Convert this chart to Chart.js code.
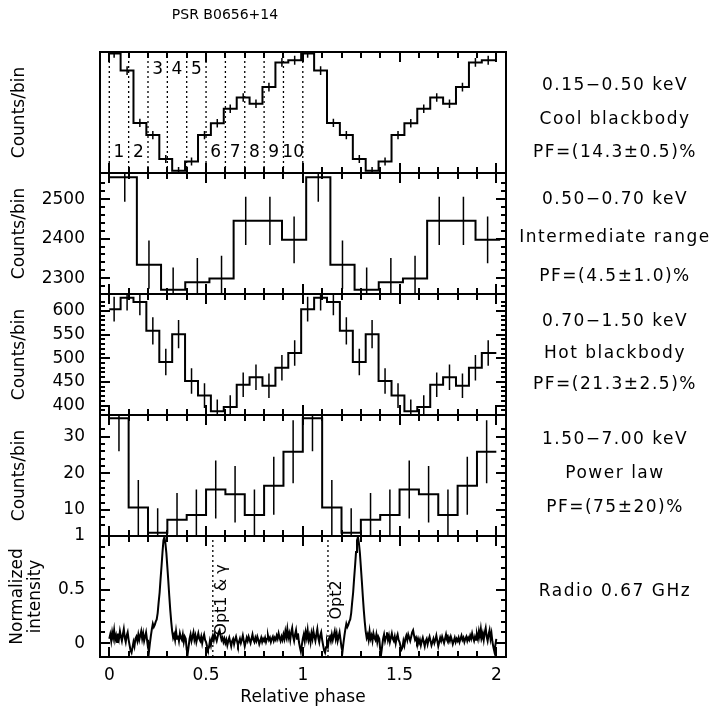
<!DOCTYPE html>
<html>
<head>
<meta charset="utf-8">
<script src="https://cdn.jsdelivr.net/npm/chart.js@4.4.0/dist/chart.umd.min.js"></script>
<style>
  html, body { margin: 0; padding: 0; background: #fff; }
  #wrap { position: relative; width: 710px; height: 713px; overflow: hidden; }
  #wrap canvas { position: absolute; left: 0; top: 0; }
</style>
</head>
<body>
<div id="wrap">
  <canvas id="p1" width="710" height="713"></canvas>
  <canvas id="p2" width="710" height="713"></canvas>
  <canvas id="p3" width="710" height="713"></canvas>
  <canvas id="p4" width="710" height="713"></canvas>
  <canvas id="p5" width="710" height="713"></canvas>
</div>
<script>
Chart.defaults.font.family = "'DejaVu Sans', sans-serif";
Chart.defaults.color = '#000';

const PHASE_MIN = -0.048, PHASE_MAX = 2.05;

// 0.15-0.50 keV, cool blackbody (15 bins per cycle)
const coolPhase = [0.025, 0.092, 0.158, 0.225, 0.292, 0.358, 0.425, 0.492, 0.558, 0.625, 0.692, 0.758, 0.825, 0.892, 0.958];
const coolCounts = [6460, 6220, 5490, 5320, 4985, 4820, 4950, 5320, 5485, 5686, 5845, 5756, 5990, 6335, 6365];
const coolErr = [62, 60, 58, 57, 55, 55, 55, 57, 58, 59, 60, 59, 61, 62, 62];

// phase intervals 1..10 marked on the top panel
const intervalEdges = [0, 0.1, 0.2, 0.3, 0.4, 0.5, 0.6, 0.7, 0.8, 0.9, 1.0];
const intervalPhase = [0.05, 0.15, 0.25, 0.35, 0.45, 0.55, 0.65, 0.75, 0.85, 0.95];
const intervalNames = ['1', '2', '3', '4', '5', '6', '7', '8', '9', '10'];

// 0.50-0.70 keV, intermediate range (8 bins)
const midPhase = [0.08, 0.205, 0.33, 0.455, 0.58, 0.705, 0.83, 0.955];
const midCounts = [2555, 2334, 2271, 2290, 2299, 2445, 2445, 2397];
const midErr = [62, 61, 56, 61, 58, 61, 61, 59];

// 0.70-1.50 keV, hot blackbody (15 bins)
const hotPhase = [0.025, 0.092, 0.158, 0.225, 0.292, 0.358, 0.425, 0.492, 0.558, 0.625, 0.692, 0.758, 0.825, 0.892, 0.958];
const hotCounts = [604, 628, 619, 558, 492, 551, 452, 421, 388, 397, 444, 460, 442, 480, 511];
const hotErr = [26, 27, 28, 29, 28, 30, 27, 26, 25, 25, 26, 27, 26, 27, 27];

// 1.50-7.00 keV, power law (10 bins)
const plPhase = [0.05, 0.15, 0.25, 0.35, 0.45, 0.55, 0.65, 0.75, 0.85, 0.95];
const plCounts = [35.0, 10.7, 3.8, 7.3, 8.6, 15.6, 14.3, 8.6, 16.6, 25.9];
const plErr = [9, 7.5, 6.7, 7.3, 7, 7.9, 7.7, 7, 7.9, 8.6];

// radio 0.67 GHz profile, one cycle in 0.005 phase steps
const radioIntensity = [
  0.04, 0.08, 0.02, 0.10, 0.05, 0.12, 0.03, 0.07, 0.01, 0.09,
  0.04, 0.11, 0.06, 0.02, 0.08, 0.13, 0.05, 0.01, 0.07, 0.10,
  0.03, -0.02, -0.07, -0.09, -0.04, 0.01, -0.03, 0.04, 0.06, 0.02,
  0.08, 0.03, 0.07, 0.11, 0.04, 0.09, 0.02, 0.06, 0.10, 0.03,
  -0.04, -0.08, 0.00, 0.07, 0.13, 0.18, 0.15, 0.17, 0.20, 0.22,
  0.28, 0.38, 0.47, 0.60, 0.72, 0.85, 0.96, 0.99, 0.93, 0.84,
  0.71, 0.58, 0.44, 0.31, 0.20, 0.11, 0.05, 0.08, 0.03, 0.11,
  0.04, 0.07, 0.02, 0.09, 0.05, 0.03, 0.08, 0.01, 0.06, 0.04,
  -0.06, -0.10, -0.03, 0.04, 0.08, 0.02, 0.06, 0.10, 0.03, 0.07,
  0.01, 0.05, 0.09, 0.04, 0.02, 0.06, 0.00, 0.05, 0.08, 0.03,
  0.01, -0.03, -0.06, -0.04, 0.02, -0.02, 0.04, 0.07, 0.03, 0.08,
  0.05, 0.02, 0.06, 0.10, 0.12, 0.07, 0.03, 0.05, 0.01, 0.04,
  0.00, 0.03, -0.02, 0.02, 0.05, 0.01, -0.03, 0.02, 0.04, -0.01,
  0.03, 0.06, 0.02, -0.02, 0.01, 0.04, 0.00, 0.03, 0.07, 0.02,
  -0.03, 0.01, 0.05, 0.02, 0.06, 0.03, 0.00, 0.04, 0.08, 0.03,
  0.01, 0.05, 0.02, 0.06, 0.03, -0.01, 0.02, 0.05, 0.01, 0.04,
  0.02, 0.05, 0.01, 0.04, 0.07, 0.03, 0.05, 0.01, 0.04, 0.06,
  0.02, 0.05, 0.03, 0.07, 0.04, 0.09, 0.05, 0.02, 0.06, 0.03,
  0.08, 0.04, 0.11, 0.06, 0.13, 0.05, 0.09, 0.03, 0.10, 0.14,
  0.06, 0.02, 0.08, 0.12, 0.04, 0.09, 0.01, -0.04, -0.08, -0.02
];
const optPhase = [0.535, 1.13];
const optNames = ['Opt1 & \u03b3', 'Opt2'];

// axis tick marks along phase
const phaseTicks = [0, 0.1, 0.2, 0.3, 0.4, 0.5, 0.6, 0.7, 0.8, 0.9, 1.0,
                    1.1, 1.2, 1.3, 1.4, 1.5, 1.6, 1.7, 1.8, 1.9, 2.0];

const FONT = "'DejaVu Sans', sans-serif";

function onStep(v, step) {
  const r = v / step;
  return Math.abs(r - Math.round(r)) < 1e-6;
}

// histogram over two cycles, steps halfway between bin centres
function histPoints(phase, counts, start, end) {
  const c = [], v = [];
  for (let cyc = 0; cyc < 2; cyc++) {
    phase.forEach((p, i) => { c.push(p + cyc); v.push(counts[i]); });
  }
  const pts = [];
  for (let i = 0; i < c.length; i++) {
    const left = i === 0 ? start : (c[i - 1] + c[i]) / 2;
    const right = i === c.length - 1 ? end : (c[i] + c[i + 1]) / 2;
    pts.push({x: left, y: v[i]}, {x: right, y: v[i]});
  }
  return pts;
}

function errPoints(phase, counts, err) {
  const pts = [];
  for (let cyc = 0; cyc < 2; cyc++) {
    phase.forEach((p, i) => {
      pts.push({x: p + cyc, y: counts[i] - err[i]}, {x: p + cyc, y: counts[i] + err[i]}, {x: p + cyc, y: null});
    });
  }
  return pts;
}

function markPoints(list, lo, hi) {
  const pts = [];
  list.forEach(p => pts.push({x: p, y: lo}, {x: p, y: hi}, {x: p, y: null}));
  return pts;
}

function radioPoints() {
  const n = radioIntensity.length;
  const pts = [];
  for (let cyc = 0; cyc < 2; cyc++) {
    radioIntensity.forEach((v, i) => pts.push({x: cyc + i / n, y: v}));
  }
  pts.push({x: 2, y: radioIntensity[0]});
  return pts;
}

const frame = {
  id: 'frame',
  afterDraw(chart, args, opts) {
    const {ctx, chartArea: a, scales: {x, y}} = chart;
    ctx.save();
    ctx.strokeStyle = '#000';
    ctx.fillStyle = '#000';
    ctx.lineWidth = 2;
    ctx.strokeRect(a.left, a.top, a.right - a.left, a.bottom - a.top);
    ctx.beginPath();
    phaseTicks.forEach(v => {
      const px = Math.round(x.getPixelForValue(v));
      const len = onStep(v, 0.5) ? 10 : 6;
      ctx.moveTo(px, a.top); ctx.lineTo(px, a.top + len);
      ctx.moveTo(px, a.bottom); ctx.lineTo(px, a.bottom - len);
    });
    y.ticks.forEach(t => {
      if (!onStep(t.value, opts.minor)) return;
      const py = Math.round(y.getPixelForValue(t.value));
      const len = onStep(t.value, opts.major) ? 10 : 5;
      ctx.moveTo(a.left, py); ctx.lineTo(a.left + len, py);
      ctx.moveTo(a.right, py); ctx.lineTo(a.right - len, py);
    });
    ctx.stroke();

    ctx.textAlign = 'center';
    ctx.textBaseline = 'middle';
    ctx.letterSpacing = '1.5px';
    ctx.font = '17px ' + FONT;
    opts.lines.forEach((s, i) => ctx.fillText(s, 615, opts.lineY[i]));

    ctx.letterSpacing = '0px';
    if (opts.title) {
      ctx.font = '14px ' + FONT;
      ctx.fillText(opts.title, 225, 15);
    }
    if (opts.intervals) {
      ctx.font = '17px ' + FONT;
      intervalPhase.forEach((p, i) => {
        const px = x.getPixelForValue(p);
        const up = i >= 2 && i <= 4;
        ctx.fillText(intervalNames[i], px, up ? a.top + 18 : a.bottom - 20);
      });
    }
    if (opts.opt) {
      ctx.font = '16px ' + FONT;
      optPhase.forEach((p, i) => {
        ctx.save();
        ctx.translate(x.getPixelForValue(p) + 9, a.top + 64);
        ctx.rotate(-Math.PI / 2);
        ctx.fillText(optNames[i], 0, 0);
        ctx.restore();
      });
    }
    ctx.restore();
  }
};

function makePanel(id, o) {
  const showX = !!o.showX;
  return new Chart(document.getElementById(id), {
    type: 'line',
    data: {datasets: o.datasets},
    options: {
      responsive: false,
      animation: false,
      events: [],
      layout: {padding: {top: o.top, bottom: o.bottom, left: 0, right: 204}},
      plugins: {
        legend: {display: false},
        tooltip: {enabled: false},
        frame: {minor: o.minor, major: o.major, lines: o.lines, lineY: o.lineY,
                title: o.title, intervals: o.intervals, opt: o.opt}
      },
      elements: {point: {radius: 0}, line: {tension: 0, borderColor: '#000', fill: false}},
      scales: {
        x: {
          type: 'linear', min: PHASE_MIN, max: PHASE_MAX, display: showX,
          afterBuildTicks: s => { s.ticks = phaseTicks.map(v => ({value: v})); },
          afterFit: s => { if (showX) s.height = 56; },
          grid: {display: false, drawTicks: false},
          border: {display: false},
          ticks: {
            autoSkip: false, maxRotation: 0, padding: 8, font: {size: 17},
            callback: v => onStep(v, 0.5) ? String(Math.round(v * 10) / 10) : ''
          },
          title: {display: showX, text: 'Relative phase', font: {size: 17}, padding: {top: 0, bottom: 5}}
        },
        y: {
          type: 'linear', min: o.ymin, max: o.ymax,
          afterFit: s => { s.width = 100; },
          grid: {display: false, drawTicks: false},
          border: {display: false},
          ticks: {
            stepSize: o.minor, maxTicksLimit: 1000, autoSkip: false, padding: 15,
            font: {size: 17},
            callback: v => onStep(v, o.major) ? String(Math.round(v * 100) / 100) : ''
          },
          title: {display: true, text: o.ytitle, font: {size: 17, lineHeight: 1.06}, padding: {top: o.titlePad, bottom: 0}}
        }
      }
    },
    plugins: [frame]
  });
}

const errStyle = {borderColor: '#000', borderWidth: 1.5, spanGaps: false, clip: 0};
const histStyle = {borderColor: '#000', borderWidth: 2, clip: 0};
const dotStyle = {borderColor: '#000', borderWidth: 1.3, borderDash: [2, 3], spanGaps: false, clip: 0};

makePanel('p1', {
  top: 52, bottom: 713 - 173, ymin: 4790, ymax: 6480, minor: 100, major: 500,
  ytitle: 'Counts/bin', titlePad: 11,
  lines: ['0.15\u22120.50 keV', 'Cool blackbody', 'PF=(14.3\u00b10.5)%'], lineY: [86, 120, 153],
  title: 'PSR B0656+14', intervals: true,
  datasets: [
    Object.assign({data: markPoints(intervalEdges, 4790, 6480)}, dotStyle),
    Object.assign({data: histPoints(coolPhase, coolCounts, 0, 2.0)}, histStyle),
    Object.assign({data: errPoints(coolPhase, coolCounts, coolErr)}, errStyle)
  ]
});

makePanel('p2', {
  top: 173, bottom: 713 - 294, ymin: 2260, ymax: 2566, minor: 20, major: 100,
  ytitle: 'Counts/bin', titlePad: 11,
  lines: ['0.50\u22120.70 keV', 'Intermediate range', 'PF=(4.5\u00b11.0)%'], lineY: [200, 238, 277],
  datasets: [
    Object.assign({data: histPoints(midPhase, midCounts, 0, 2.02)}, histStyle),
    Object.assign({data: errPoints(midPhase, midCounts, midErr)}, errStyle)
  ]
});

makePanel('p3', {
  top: 294, bottom: 713 - 415, ymin: 380, ymax: 636, minor: 10, major: 50,
  ytitle: 'Counts/bin', titlePad: 11,
  lines: ['0.70\u22121.50 keV', 'Hot blackbody', 'PF=(21.3\u00b12.5)%'], lineY: [322, 354, 385],
  datasets: [
    Object.assign({data: histPoints(hotPhase, hotCounts, 0, 2.0)}, histStyle),
    Object.assign({data: errPoints(hotPhase, hotCounts, hotErr)}, errStyle)
  ]
});

makePanel('p4', {
  top: 415, bottom: 713 - 536, ymin: 2.9, ymax: 35.9, minor: 2, major: 10,
  ytitle: 'Counts/bin', titlePad: 11,
  lines: ['1.50\u22127.00 keV', 'Power law', 'PF=(75\u00b120)%'], lineY: [440, 474, 508],
  datasets: [
    Object.assign({data: histPoints(plPhase, plCounts, 0, 2.0)}, histStyle),
    Object.assign({data: errPoints(plPhase, plCounts, plErr)}, errStyle)
  ]
});

makePanel('p5', {
  top: 536, bottom: 0, ymin: -0.13, ymax: 1.0, minor: 0.1, major: 0.5, showX: true,
  ytitle: ['Normalized', 'intensity'], titlePad: 9,
  lines: ['Radio 0.67 GHz'], lineY: [592], opt: true,
  datasets: [
    Object.assign({data: markPoints(optPhase, -0.13, 1.0)}, dotStyle),
    Object.assign({data: radioPoints()}, {borderColor: '#000', borderWidth: 2, clip: 0})
  ]
});
</script>
</body>
</html>
